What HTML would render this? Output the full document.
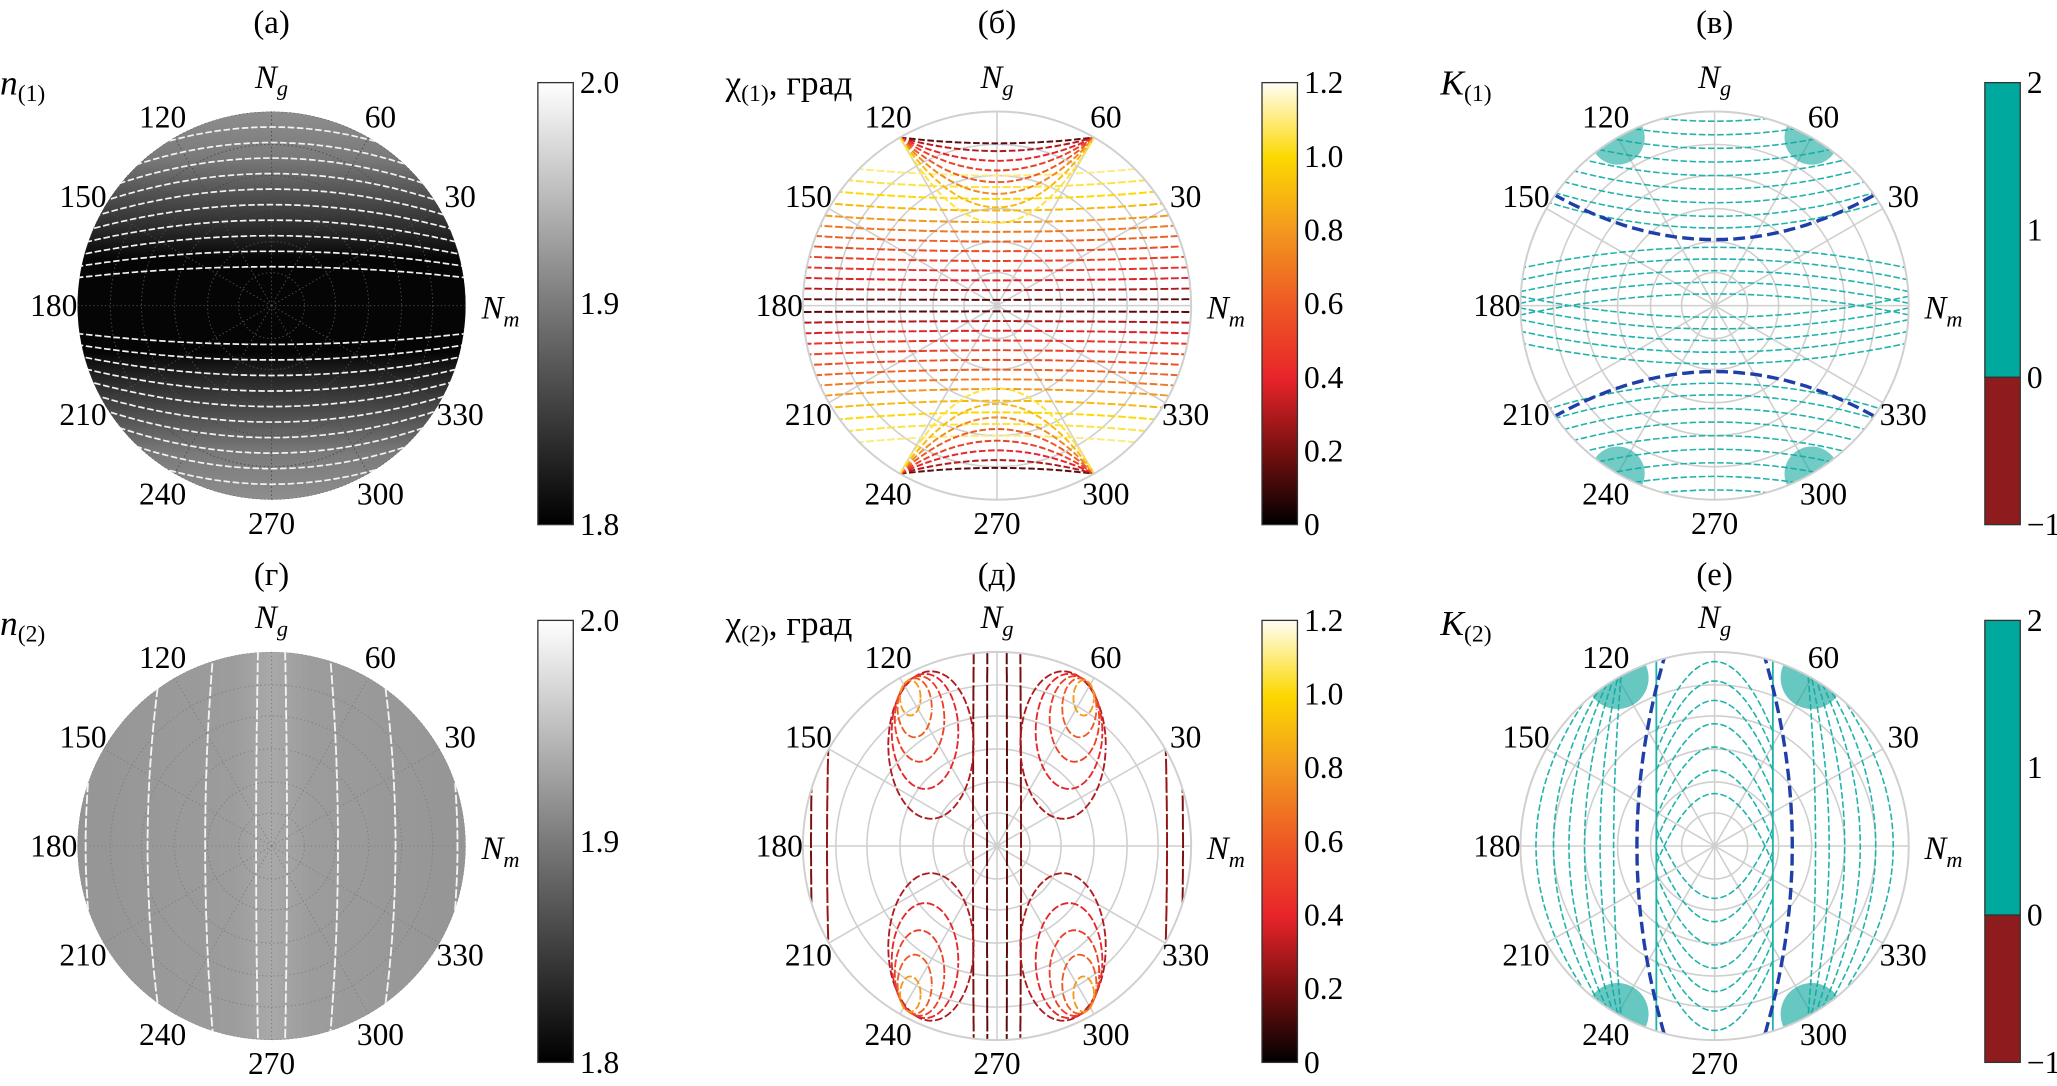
<!DOCTYPE html>
<html><head><meta charset="utf-8"><style>
html,body{margin:0;padding:0;background:#fff;overflow:hidden;width:2057px;height:1086px;}
svg{display:block;}
text{font-family:"Liberation Serif","DejaVu Serif",serif;}
</style></head><body>
<svg id="fig" width="2057" height="1086" viewBox="0 0 1568 828" preserveAspectRatio="none" xmlns="http://www.w3.org/2000/svg">
<defs>
<linearGradient id="gA" x1="0" y1="0" x2="0" y2="1">
<stop offset="0" stop-color="#8e8e8e"/><stop offset="0.12" stop-color="#7a7a7a"/><stop offset="0.3" stop-color="#2c2c2c"/><stop offset="0.38" stop-color="#050505"/><stop offset="0.62" stop-color="#050505"/><stop offset="0.7" stop-color="#2c2c2c"/><stop offset="0.88" stop-color="#7a7a7a"/><stop offset="1" stop-color="#8e8e8e"/></linearGradient>
<linearGradient id="gD" x1="0" y1="0" x2="1" y2="0">
<stop offset="0" stop-color="#959595"/><stop offset="0.4" stop-color="#9c9c9c"/><stop offset="0.5" stop-color="#a9a9a9"/><stop offset="0.6" stop-color="#9c9c9c"/><stop offset="1" stop-color="#959595"/></linearGradient>
<linearGradient id="gGray" x1="0" y1="1" x2="0" y2="0">
<stop offset="0" stop-color="#000"/><stop offset="0.5" stop-color="#7a7a7a"/><stop offset="1" stop-color="#fff"/></linearGradient>
<linearGradient id="gHot" x1="0" y1="1" x2="0" y2="0">
<stop offset="0" stop-color="#000"/><stop offset="0.17" stop-color="#7a1010"/><stop offset="0.33" stop-color="#e8242a"/><stop offset="0.5" stop-color="#ee5a24"/><stop offset="0.67" stop-color="#f39a1e"/><stop offset="0.83" stop-color="#fcd800"/><stop offset="1" stop-color="#fffef5"/></linearGradient>
</defs>
</svg>
<script>
const NS='http://www.w3.org/2000/svg';
const svg=document.getElementById('fig');
const defs=svg.querySelector('defs');
const centersX=[207,760,1307];
const centersY=[233,645];
const R=148;
const angleTicks=[30,60,120,150,180,210,240,270,300,330];
const gridRings=[0.17,0.33,0.5,0.67,0.83,1];
const panelTitles=['(а)','(б)','(в)','(г)','(д)','(е)'];
const n1Levels=[-0.92,-0.84,-0.76,-0.68,-0.6,-0.52,-0.44,-0.36,-0.28,-0.2,0.2,0.28,0.36,0.44,0.52,0.6,0.68,0.76,0.84,0.92];
const n2Levels=[-0.84,-0.56,-0.3,-0.07,0.07,0.3,0.56,0.84];
const chi1Heights=[0.03,0.08,0.13,0.18,0.23,0.28,0.33,0.38,0.43,0.49,0.55,0.61,0.67];
const chi1Values=[0.15,0.3,0.38,0.45,0.5,0.55,0.62,0.7,0.8,0.9,1.0,1.05,1.1];
const chi1ArcDepth=[0.03,0.07,0.12,0.17,0.23,0.29,0.36,0.44];
const chi1ArcValues=[0.15,0.3,0.4,0.5,0.6,0.75,0.9,1.05];
const chi2Vertical=[-0.93,-0.85,-0.12,-0.05,0.05,0.12,0.85,0.93];
const chi2VerticalValues=[0.2,0.25,0.2,0.15,0.15,0.2,0.25,0.2];
const chi2LobeScale=[1,0.78,0.58,0.4,0.24];
const chi2LobeValues=[0.3,0.4,0.5,0.6,0.8];
const k1Levels=[-0.95,-0.88,-0.81,-0.74,-0.67,-0.6,-0.53,-0.46,-0.4,-0.3,-0.24,-0.18,-0.12,-0.06,0.06,0.12,0.18,0.24,0.3,0.4,0.46,0.53,0.6,0.67,0.74,0.81,0.88,0.95];
const k1Boundary=[0.34,0.34];
const k2Apex=[0.95,0.85,0.75,0.63,0.51,0.39,0.27];
const k2Side=[0.05,0.12,0.2,0.28,0.36,0.45];
const k2Boundary=[0.4,0.15];

function mk(tag,parent){const e=document.createElementNS(NS,tag);parent.appendChild(e);return e;}
function hot(v){const t=Math.max(0,Math.min(1,v/1.2));
 const st=[[0,0,0,0],[0.17,122,16,16],[0.33,232,36,42],[0.5,238,90,36],[0.67,243,154,30],[0.83,252,216,0],[1,255,254,245]];
 for(let i=1;i<st.length;i++){if(t<=st[i][0]){const a=st[i-1],b=st[i],f=(t-a[0])/(b[0]-a[0]);
 return 'rgb('+[1,2,3].map(k=>Math.round(a[k]+(b[k]-a[k])*f)).join(',')+')';}}return '#fff';}
function toD(p,pts){const cx=centersX[p%3],cy=centersY[Math.floor(p/3)];
 return pts.map((q,i)=>(i?'L':'M')+(cx+q[0]*R).toFixed(1)+' '+(cy-q[1]*R).toFixed(1)).join(' ');}
function line(g,p,pts,stroke,w,dash){const e=mk('path',g);e.setAttribute('d',toD(p,pts));e.setAttribute('fill','none');
 e.setAttribute('stroke',stroke);e.setAttribute('stroke-width',w);if(dash)e.setAttribute('stroke-dasharray',dash);return e;}
function fx(f,a,b){a=a===undefined?-1.05:a;b=b===undefined?1.05:b;const r=[];for(let x=a;x<=b+0.001;x+=0.02)r.push([x,f(x)]);return r;}
function fy(f){const a=[];for(let y=-1.05;y<=1.051;y+=0.025)a.push([f(y),y]);return a;}
function txt(parent,x,y,size){const t=mk('text',parent);t.setAttribute('x',x);t.setAttribute('y',y);t.setAttribute('font-size',size);return t;}

for(let p=0;p<6;p++){
 const col=p%3,row=Math.floor(p/3),cx=centersX[col],cy=centersY[row];
 const cp=mk('clipPath',defs);cp.setAttribute('id','clip'+p);
 const cc=mk('circle',cp);cc.setAttribute('cx',cx);cc.setAttribute('cy',cy);cc.setAttribute('r',R);
 const pg=mk('g',svg);
 
 
 const g=mk('g',pg);g.setAttribute('clip-path','url(#clip'+p+')');
 
 
 const bg=mk('circle',g);bg.setAttribute('cx',cx);bg.setAttribute('cy',cy);bg.setAttribute('r',R);
 bg.setAttribute('fill',col===0?(row===0?'url(#gA)':'url(#gD)'):'#fff');
 
 
 const gc=col===0?(row===0?'#4a4a4a':'#808080'):'#cfcfcf';
 gridRings.forEach(r=>{const c=mk('circle',g);c.setAttribute('cx',cx);c.setAttribute('cy',cy);c.setAttribute('r',r*R);
  c.setAttribute('fill','none');c.setAttribute('stroke',gc);c.setAttribute('stroke-width',col===0?0.8:1.2);
  if(col===0)c.setAttribute('stroke-dasharray','1 2');
  
  });
 for(let a=0;a<360;a+=30){const t=a*Math.PI/180;const l=line(g,p,[[0,0],[Math.cos(t),Math.sin(t)]],gc,col===0?0.8:1.2,col===0?'1 2':null);
  
  }
 if(p===0){n1Levels.forEach(y0=>{const l=line(g,p,fx(x=>y0*(1-0.28*x*x)),'#f2f2f2',1.3,'5 2');
  
  });}
 if(p===3){n2Levels.forEach(x0=>{const l=line(g,p,fy(y=>x0*(1+0.14*(1-y*y))),'#f4f4f4',1.4,'7 2');
  
  });}
 if(p===1){
  chi1Heights.forEach((h,i)=>{[1,-1].forEach(s=>{const l=line(g,p,fx(x=>s*h*(1+0.1*x*x)),hot(chi1Values[i]),1.5,'6 2');
   
   });});
  chi1ArcDepth.forEach((d,i)=>{[1,-1].forEach(s=>{const pts=[];for(let x=-0.5;x<=0.501;x+=0.02)pts.push([x,s*(0.866-d*(1-(x/0.5)**2))]);
   const l=line(g,p,pts,hot(chi1ArcValues[i]),1.5,'5 2');
   
   });});}
 if(p===4){
  chi2Vertical.forEach((x0,i)=>{const l=line(g,p,fy(y=>x0*(1+0.03*(1-y*y))),hot(chi2VerticalValues[i]),1.5,'12 2');
   
   });
  chi2LobeScale.forEach((s,i)=>{[[1,1],[-1,1],[1,-1],[-1,-1]].forEach(q=>{const pts=[];
   const ex=q[0]*(0.34+0.14*(1-s)),ey=q[1]*(0.52+0.32*(1-s));
   for(let t=0;t<=6.29;t+=0.08)pts.push([ex+0.22*s*Math.cos(t),ey+0.38*s*Math.sin(t)]);
   const l=line(g,p,pts,hot(chi2LobeValues[i]),1.4,'6 2');
   
   });});}
 if(p===2){
  k1Levels.forEach(y0=>{const l=line(g,p,fx(x=>y0+Math.sign(y0)*0.18*x*x*(Math.abs(y0)<0.34?-0.6:1)),'#1fb3aa',1.2,'5 2');
   
   });
  [[0.5,0.866],[-0.5,0.866],[0.5,-0.866],[-0.5,-0.866]].forEach(c=>{const e=mk('circle',g);
   e.setAttribute('cx',cx+c[0]*R);e.setAttribute('cy',cy-c[1]*R);e.setAttribute('r',0.14*R);e.setAttribute('fill','#16a99f');e.setAttribute('opacity','0.6');
   
   });
  [1,-1].forEach(s=>{const l=line(g,p,fx(x=>s*(k1Boundary[0]+k1Boundary[1]*x*x)),'#1f3fa8',2.6,'9 4');
   
   });}
 if(p===5){
  [0.3,-0.3].forEach(x0=>{const l=line(g,p,[[x0,-1.1],[x0,1.1]],'#1fb3aa',1.4,null);
   
   });
  k2Apex.forEach(a=>{[1,-1].forEach(s=>{const l=line(g,p,fx(x=>s*(a-4*x*x),-0.3,0.3),'#1fb3aa',1.2,'5 2');
   
   });});
  k2Side.forEach(a=>{[1,-1].forEach(s=>{const l=line(g,p,fy(y=>s*(0.47+a*(1-y*y))),'#1fb3aa',1.2,'5 2');
   
   });});
  [[0.5,0.866],[-0.5,0.866],[0.5,-0.866],[-0.5,-0.866]].forEach(c=>{const e=mk('circle',g);
   e.setAttribute('cx',cx+c[0]*R);e.setAttribute('cy',cy-c[1]*R);e.setAttribute('r',0.16*R);e.setAttribute('fill','#16a99f');e.setAttribute('opacity','0.65');
   
   });
  [1,-1].forEach(s=>{const l=line(g,p,fy(y=>s*(k2Boundary[0]-k2Boundary[1]*y*y)),'#1f3fa8',2.6,'9 4');
   
   });}
 if(col>0){const o=mk('circle',pg);o.setAttribute('cx',cx);o.setAttribute('cy',cy);o.setAttribute('r',R);o.setAttribute('fill','none');o.setAttribute('stroke','#d0d0d0');o.setAttribute('stroke-width','1.5');
  
  }
 angleTicks.forEach(a=>{const t=a*Math.PI/180,rr=166;const tx=txt(pg,cx+rr*Math.cos(t),cy-rr*Math.sin(t)+8,24);
  tx.setAttribute('text-anchor','middle');
  tx.textContent=a;
  
  });
 const ng=txt(pg,cx,cy-166,25);ng.setAttribute('text-anchor','middle');ng.setAttribute('font-style','italic');
 ng.innerHTML='N<tspan font-size="17" dy="6">g</tspan>';
 
 
 const nm=txt(pg,cx+160,cy+10,25);nm.setAttribute('font-style','italic');
 nm.innerHTML='N<tspan font-size="17" dy="6">m</tspan>';
 
 
 const ti=txt(pg,cx,row?446:25,25);ti.setAttribute('text-anchor','middle');
 ti.textContent=panelTitles[p];
 
 
 const idx=row+1;
 const yl=txt(pg,col===0?0:col===1?553:1098,cy-161,27);
 if(col===0){yl.innerHTML='<tspan font-style="italic">n</tspan><tspan font-size="18" dy="5">('+idx+')</tspan>';}
 if(col===1){yl.innerHTML='χ<tspan font-size="18" dy="5">('+idx+')</tspan><tspan dy="-5">, град</tspan>';}
 if(col===2){yl.innerHTML='<tspan font-style="italic">K</tspan><tspan font-size="18" dy="5">('+idx+')</tspan>';}
 
 
}
const cbX=[410,962,1513];
const cbTicksGray=['2.0','1.9','1.8'];
const cbTicksHot=['1.2','1.0','0.8','0.6','0.4','0.2','0'];
const cbTicksK=['2','1','0','−1'];
for(let row=0;row<2;row++){const top=row?473:63,h=337;
 for(let col=0;col<3;col++){const x=cbX[col];const cg=mk('g',svg);
  
  
  if(col<2){const r=mk('rect',cg);r.setAttribute('x',x);r.setAttribute('y',top);r.setAttribute('width',27);r.setAttribute('height',h);
   r.setAttribute('fill',col?'url(#gHot)':'url(#gGray)');r.setAttribute('stroke','#333');r.setAttribute('stroke-width','1');}
  else{const r1=mk('rect',cg);r1.setAttribute('x',x);r1.setAttribute('y',top);r1.setAttribute('width',27);r1.setAttribute('height',h*2/3);r1.setAttribute('fill','#00a99d');r1.setAttribute('stroke','#333');
   const r2=mk('rect',cg);r2.setAttribute('x',x);r2.setAttribute('y',top+h*2/3);r2.setAttribute('width',27);r2.setAttribute('height',h/3);r2.setAttribute('fill','#8e1b1e');r2.setAttribute('stroke','#333');}
  const ticks=col===0?cbTicksGray:col===1?cbTicksHot:cbTicksK;
  ticks.forEach((t,i)=>{const tx=txt(cg,x+32,top+h*i/(ticks.length-1)+8,24);
   tx.textContent=t;
   
   });}}
</script>
</body></html>
